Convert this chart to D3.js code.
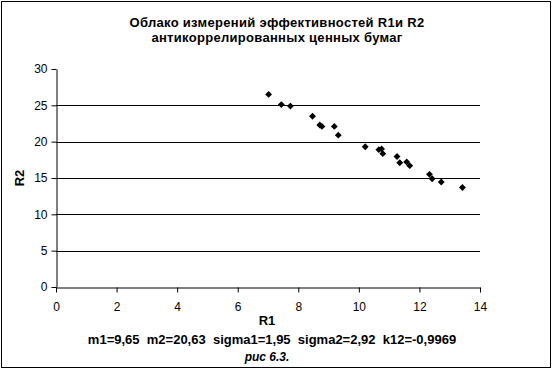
<!doctype html>
<html lang="ru">
<head>
  <meta charset="utf-8">
  <script src="https://d3js.org/d3.v7.min.js"></script>
  <style>
    html, body { margin: 0; padding: 0; background: #fff; }
    svg { display: block; font-family: "Liberation Sans", Arial, sans-serif; }
  </style>
</head>
<body>
<script>
  var r1 = [7.02, 7.44, 7.74, 8.47, 8.71, 8.78, 9.19, 9.32, 10.21, 10.66, 10.75, 10.79, 11.26, 11.35, 11.58, 11.68, 12.33, 12.42, 12.72, 13.42];
  var r2 = [26.5, 25.1, 24.9, 23.5, 22.3, 22.1, 22.1, 20.9, 19.3, 18.9, 19.0, 18.35, 17.96, 17.1, 17.2, 16.7, 15.5, 14.9, 14.45, 13.7];
  var xTicks = [0, 2, 4, 6, 8, 10, 12, 14];
  var yTicks = [0, 5, 10, 15, 20, 25, 30];
  var titleLines = ["Облако измерений эффективностей R1и R2", "антикоррелированных ценных бумаг"];
  var statsText = "m1=9,65  m2=20,63  sigma1=1,95  sigma2=2,92  k12=-0,9969";
  var captionText = "рис 6.3.";

  var W = 556, H = 373;
  // plot area (note: "top" is reserved on window)
  var plot = { left: 56, right: 480, top: 69, bottom: 287 };

  var svg = d3.select("body").append("svg")
    .attr("width", W)
    .attr("height", H);

  // outer frame
  svg.append("rect")
    .attr("x", 1.5).attr("y", 1.5)
    .attr("width", 549).attr("height", 366)
    .attr("fill", "#fff").attr("stroke", "#000").attr("stroke-width", 1);

  var x = d3.scaleLinear().domain([0, 14]).range([plot.left, plot.right]);
  var y = d3.scaleLinear().domain([0, 30]).range([plot.bottom, plot.top]);

  // horizontal grid
  svg.append("g")
    .selectAll("line")
    .data(yTicks.filter(function(d) { return d > 0 && d < 30; }))
    .enter().append("line")
    .attr("x1", x(0)).attr("x2", x(14))
    .attr("y1", function(d) { return Math.round(y(d)) + 0.5; })
    .attr("y2", function(d) { return Math.round(y(d)) + 0.5; })
    .attr("stroke", "#000");

  // y axis
  var yAxis = svg.append("g")
    .attr("transform", "translate(" + (plot.left + 0.5) + ",0)")
    .call(d3.axisLeft(y).tickValues(yTicks).tickSize(5).tickPadding(4).tickSizeOuter(0));
  yAxis.selectAll("text").style("font-size", "12px").attr("fill", "#000")
    .attr("font-family", "Liberation Sans, Arial, sans-serif");

  // x axis
  var xAxis = svg.append("g")
    .attr("transform", "translate(0," + (plot.bottom + 0.5) + ")")
    .call(d3.axisBottom(x).tickValues(xTicks).tickSize(5).tickPadding(10).tickSizeOuter(0));
  xAxis.selectAll("text").style("font-size", "12px").attr("fill", "#000")
    .attr("font-family", "Liberation Sans, Arial, sans-serif");

  // points as diamonds
  var pts = r1.map(function(v, i) { return [v, r2[i]]; });
  svg.append("g")
    .selectAll("path")
    .data(pts)
    .enter().append("path")
    .attr("d", d3.symbol().type(d3.symbolDiamond2).size(30))
    .attr("transform", function(d) { return "translate(" + x(d[0]) + "," + y(d[1]) + ")"; })
    .attr("fill", "#000");

  // title
  svg.append("g").selectAll("text")
    .data(titleLines)
    .enter().append("text")
    .attr("x", 277)
    .attr("y", function(d, i) { return 27 + i * 15; })
    .attr("text-anchor", "middle")
    .style("font-size", "13px")
    .style("font-weight", "bold")
    .style("letter-spacing", "0.3px")
    .text(function(d) { return d; });

  // axis titles
  svg.append("text")
    .attr("transform", "translate(24,178) rotate(-90)")
    .attr("text-anchor", "middle")
    .style("font-size", "13px")
    .style("font-weight", "bold")
    .text("R2");

  svg.append("text")
    .attr("x", 267).attr("y", 325)
    .attr("text-anchor", "middle")
    .style("font-size", "13px")
    .style("font-weight", "bold")
    .text("R1");

  svg.append("text")
    .attr("x", 272).attr("y", 344)
    .attr("text-anchor", "middle")
    .style("font-size", "13px")
    .style("font-weight", "bold")
    .attr("xml:space", "preserve")
    .style("white-space", "pre")
    .text(statsText);

  svg.append("text")
    .attr("x", 267).attr("y", 361)
    .attr("text-anchor", "middle")
    .style("font-size", "12px")
    .style("font-style", "italic")
    .style("font-weight", "bold")
    .text(captionText);
</script>
</body>
</html>
